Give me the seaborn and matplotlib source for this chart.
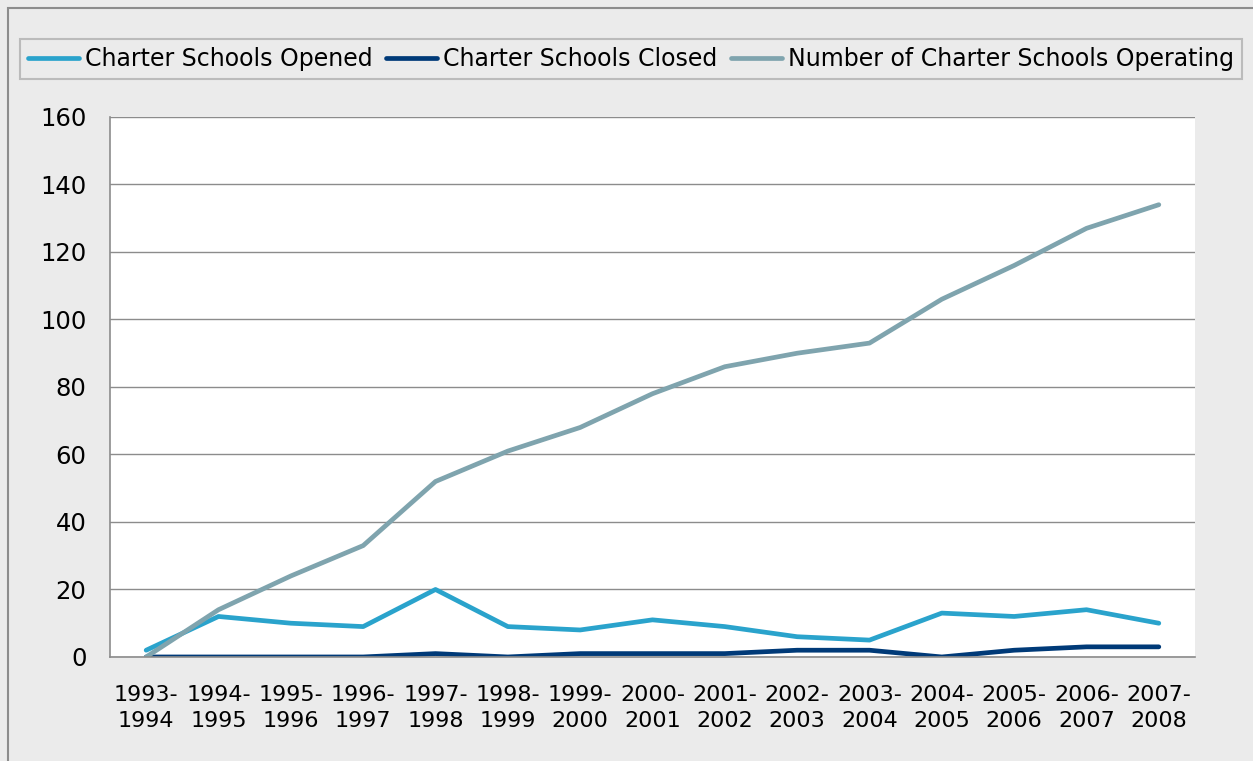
import matplotlib
matplotlib.use("Agg")
import matplotlib.pyplot as plt
import seaborn as sns
import pandas as pd
from matplotlib.patches import Rectangle

years = ["1993-\n1994", "1994-\n1995", "1995-\n1996", "1996-\n1997", "1997-\n1998",
         "1998-\n1999", "1999-\n2000", "2000-\n2001", "2001-\n2002", "2002-\n2003",
         "2003-\n2004", "2004-\n2005", "2005-\n2006", "2006-\n2007", "2007-\n2008"]
opened = [2, 12, 10, 9, 20, 9, 8, 11, 9, 6, 5, 13, 12, 14, 10]
closed = [0, 0, 0, 0, 1, 0, 1, 1, 1, 2, 2, 0, 2, 3, 3]
operating = [0, 14, 24, 33, 52, 61, 68, 78, 86, 90, 93, 106, 116, 127, 134]

series = ["Charter Schools Opened", "Charter Schools Closed",
          "Number of Charter Schools Operating"]
colors = ["#2aa3cc", "#003a78", "#7fa4ae"]

df = pd.DataFrame({
    "year": years * 3,
    "value": opened + closed + operating,
    "series": [series[0]] * 15 + [series[1]] * 15 + [series[2]] * 15,
})

sns.set_style("white")
plt.rcParams["font.family"] = ["DejaVu Sans"]
plt.rcParams["text.color"] = "black"
plt.rcParams["xtick.color"] = "black"
plt.rcParams["ytick.color"] = "black"

fig = plt.figure(figsize=(12.53, 7.61), dpi=100, facecolor="#ebebeb")
fig.patches.append(Rectangle((0.006, -0.01), 1.1, 0.999, transform=fig.transFigure,
                             fill=False, edgecolor="#8c8c8c", linewidth=1.5))
ax = fig.add_axes([0.0878, 0.1367, 0.8659, 0.7096])
ax.set_facecolor("white")

sns.lineplot(data=df, x="year", y="value", hue="series", palette=colors,
             linewidth=3.4, ax=ax, sort=False, legend=False)

ax.set_ylim(0, 160)
ax.set_yticks(range(0, 161, 20))
ax.set_xlim(-0.5, 14.5)
ax.set_xticks(range(15))
ax.set_xticklabels(years, fontsize=16, linespacing=1.4)
ax.set_xticks([i - 0.5 for i in range(16)], minor=True)
ax.tick_params(axis="x", which="major", length=0, pad=20)
ax.tick_params(axis="x", which="minor", length=7, color="#8c8c8c", width=1.2)
ax.tick_params(axis="y", length=7, color="#8c8c8c", width=1.2, labelsize=17.5, pad=10)
ax.yaxis.grid(True, color="#8c8c8c", linewidth=1)
ax.set_xlabel("")
ax.set_ylabel("")
for s in ["top", "right"]:
    ax.spines[s].set_visible(False)
for s in ["left", "bottom"]:
    ax.spines[s].set_color("#8c8c8c")
    ax.spines[s].set_linewidth(1.2)

handles = [plt.Line2D([], [], color=c, linewidth=3.4) for c in colors]
leg = fig.legend(handles, series, loc="center", bbox_to_anchor=(0.5036, 0.9225),
                 ncol=3, fontsize=17, frameon=True, fancybox=False,
                 handlelength=2.15, handletextpad=0.25, columnspacing=0.6,
                 borderpad=0.35, edgecolor="#b0b0b0", facecolor="#ebebeb")
leg.get_frame().set_linewidth(1.5)

fig.savefig("out.png", dpi=100, facecolor=fig.get_facecolor())
